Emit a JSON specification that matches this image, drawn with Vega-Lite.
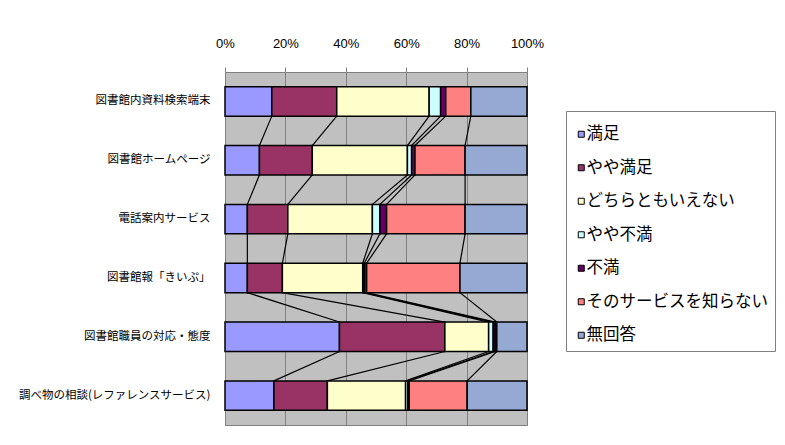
{
  "$schema": "https://vega.github.io/schema/vega-lite/v6.json",
  "width": 302,
  "height": 353,
  "autosize": {"type": "none"},
  "padding": {"left": 225, "top": 72, "right": 258, "bottom": 20},
  "background": "white",
  "config": {
    "view": {"fill": "#C0C0C0", "stroke": "#808080", "strokeWidth": 1}
  },
  "data": {
    "values": [
      {"item": "図書館内資料検索端末", "no": 1, "resp": "満足", "ro": 1, "pct": 15.5},
      {"item": "図書館内資料検索端末", "no": 1, "resp": "やや満足", "ro": 2, "pct": 21.5},
      {"item": "図書館内資料検索端末", "no": 1, "resp": "どちらともいえない", "ro": 3, "pct": 30.6},
      {"item": "図書館内資料検索端末", "no": 1, "resp": "やや不満", "ro": 4, "pct": 3.8},
      {"item": "図書館内資料検索端末", "no": 1, "resp": "不満", "ro": 5, "pct": 1.7},
      {"item": "図書館内資料検索端末", "no": 1, "resp": "そのサービスを知らない", "ro": 6, "pct": 8.3},
      {"item": "図書館内資料検索端末", "no": 1, "resp": "無回答", "ro": 7, "pct": 18.6},
      {"item": "図書館ホームページ", "no": 2, "resp": "満足", "ro": 1, "pct": 11.4},
      {"item": "図書館ホームページ", "no": 2, "resp": "やや満足", "ro": 2, "pct": 17.5},
      {"item": "図書館ホームページ", "no": 2, "resp": "どちらともいえない", "ro": 3, "pct": 31.5},
      {"item": "図書館ホームページ", "no": 2, "resp": "やや不満", "ro": 4, "pct": 1.4},
      {"item": "図書館ホームページ", "no": 2, "resp": "不満", "ro": 5, "pct": 1.1},
      {"item": "図書館ホームページ", "no": 2, "resp": "そのサービスを知らない", "ro": 6, "pct": 16.6},
      {"item": "図書館ホームページ", "no": 2, "resp": "無回答", "ro": 7, "pct": 20.5},
      {"item": "電話案内サービス", "no": 3, "resp": "満足", "ro": 1, "pct": 7.4},
      {"item": "電話案内サービス", "no": 3, "resp": "やや満足", "ro": 2, "pct": 13.4},
      {"item": "電話案内サービス", "no": 3, "resp": "どちらともいえない", "ro": 3, "pct": 28.0},
      {"item": "電話案内サービス", "no": 3, "resp": "やや不満", "ro": 4, "pct": 2.5},
      {"item": "電話案内サービス", "no": 3, "resp": "不満", "ro": 5, "pct": 2.2},
      {"item": "電話案内サービス", "no": 3, "resp": "そのサービスを知らない", "ro": 6, "pct": 26.0},
      {"item": "電話案内サービス", "no": 3, "resp": "無回答", "ro": 7, "pct": 20.5},
      {"item": "図書館報「きいぷ」", "no": 4, "resp": "満足", "ro": 1, "pct": 7.4},
      {"item": "図書館報「きいぷ」", "no": 4, "resp": "やや満足", "ro": 2, "pct": 11.6},
      {"item": "図書館報「きいぷ」", "no": 4, "resp": "どちらともいえない", "ro": 3, "pct": 26.6},
      {"item": "図書館報「きいぷ」", "no": 4, "resp": "やや不満", "ro": 4, "pct": 0.5},
      {"item": "図書館報「きいぷ」", "no": 4, "resp": "不満", "ro": 5, "pct": 0.8},
      {"item": "図書館報「きいぷ」", "no": 4, "resp": "そのサービスを知らない", "ro": 6, "pct": 30.9},
      {"item": "図書館報「きいぷ」", "no": 4, "resp": "無回答", "ro": 7, "pct": 22.2},
      {"item": "図書館職員の対応・態度", "no": 5, "resp": "満足", "ro": 1, "pct": 37.9},
      {"item": "図書館職員の対応・態度", "no": 5, "resp": "やや満足", "ro": 2, "pct": 34.9},
      {"item": "図書館職員の対応・態度", "no": 5, "resp": "どちらともいえない", "ro": 3, "pct": 14.5},
      {"item": "図書館職員の対応・態度", "no": 5, "resp": "やや不満", "ro": 4, "pct": 1.5},
      {"item": "図書館職員の対応・態度", "no": 5, "resp": "不満", "ro": 5, "pct": 0.7},
      {"item": "図書館職員の対応・態度", "no": 5, "resp": "そのサービスを知らない", "ro": 6, "pct": 0.5},
      {"item": "図書館職員の対応・態度", "no": 5, "resp": "無回答", "ro": 7, "pct": 10.0},
      {"item": "調べ物の相談(レファレンスサービス)", "no": 6, "resp": "満足", "ro": 1, "pct": 16.2},
      {"item": "調べ物の相談(レファレンスサービス)", "no": 6, "resp": "やや満足", "ro": 2, "pct": 17.7},
      {"item": "調べ物の相談(レファレンスサービス)", "no": 6, "resp": "どちらともいえない", "ro": 3, "pct": 25.9},
      {"item": "調べ物の相談(レファレンスサービス)", "no": 6, "resp": "やや不満", "ro": 4, "pct": 0.7},
      {"item": "調べ物の相談(レファレンスサービス)", "no": 6, "resp": "不満", "ro": 5, "pct": 0.5},
      {"item": "調べ物の相談(レファレンスサービス)", "no": 6, "resp": "そのサービスを知らない", "ro": 6, "pct": 19.2},
      {"item": "調べ物の相談(レファレンスサービス)", "no": 6, "resp": "無回答", "ro": 7, "pct": 19.8}
    ]
  },
  "layer": [
    {
      "transform": [
        {"stack": "pct", "groupby": ["item"], "sort": [{"field": "ro", "order": "ascending"}], "as": ["c0", "c1"]},
        {"filter": "datum.ro < 7"},
        {"window": [{"op": "lead", "field": "c1", "as": "nextC"}], "groupby": ["ro"], "sort": [{"field": "no", "order": "ascending"}]},
        {"filter": "isValid(datum.nextC)"},
        {"calculate": "datum.no - 0.25", "as": "yA"},
        {"calculate": "datum.no + 0.25", "as": "yB"}
      ],
      "mark": {"type": "rule", "color": "black", "strokeWidth": 1.2},
      "encoding": {
        "x": {
          "field": "c1", "type": "quantitative",
          "scale": {"domain": [0, 100], "nice": false},
          "axis": {"orient": "top", "title": null, "values": [0, 20, 40, 60, 80, 100], "labelExpr": "datum.value + '%'", "labelFlush": false, "labelOverlap": false, "grid": true, "gridColor": "#808080", "gridWidth": 1, "domain": false, "tickSize": 5, "tickColor": "#808080", "labelPadding": 17, "labelFont": "Liberation Sans", "labelFontSize": 13, "labelColor": "black"}
        },
        "x2": {"field": "nextC"},
        "y": {"field": "yA", "type": "quantitative", "scale": {"domain": [0, 6], "reverse": true, "nice": false, "zero": false}, "axis": null},
        "y2": {"field": "yB"}
      }
    },
    {
      "mark": {"type": "bar", "stroke": "black", "strokeWidth": 1.5},
      "encoding": {
        "y": {
          "field": "item", "type": "nominal", "sort": null,
          "scale": {"paddingInner": 0.5, "paddingOuter": 0.25},
          "axis": {"title": null, "ticks": false, "domain": false, "labelPadding": 15, "labelFont": "Noto Sans CJK JP", "labelFontSize": 11.5, "labelColor": "black", "labelLimit": 300}
        },
        "x": {
          "field": "pct", "type": "quantitative", "stack": "zero",
          "scale": {"domain": [0, 100], "nice": false},
          "axis": {"orient": "top", "title": null, "values": [0, 20, 40, 60, 80, 100], "labelExpr": "datum.value + '%'", "labelFlush": false, "labelOverlap": false, "grid": true, "gridColor": "#808080", "gridWidth": 1, "domain": false, "tickSize": 5, "tickColor": "#808080", "labelPadding": 17, "labelFont": "Liberation Sans", "labelFontSize": 13, "labelColor": "black"}
        },
        "order": {"field": "ro", "type": "quantitative"},
        "color": {
          "field": "resp", "type": "nominal",
          "sort": ["満足", "やや満足", "どちらともいえない", "やや不満", "不満", "そのサービスを知らない", "無回答"],
          "scale": {
            "domain": ["満足", "やや満足", "どちらともいえない", "やや不満", "不満", "そのサービスを知らない", "無回答"],
            "range": ["#9999FF", "#993366", "#FFFFCC", "#CCFFFF", "#660066", "#FF8080", "#95A9D3"]
          },
          "legend": {
            "orient": "none", "legendX": 341, "legendY": 39, "title": " ", "titleFontSize": 8, "titlePadding": 0,
            "fillColor": "white", "strokeColor": "#808080", "padding": 7,
            "symbolType": "square", "symbolSize": 36, "symbolStrokeColor": "black", "symbolStrokeWidth": 1, "symbolOpacity": 1,
            "labelFont": "Noto Sans CJK JP", "labelFontSize": 16.5, "labelColor": "black", "labelLimit": 300, "labelOffset": -3,
            "rowPadding": 16.5
          }
        }
      }
    }
  ],
  "resolve": {"scale": {"y": "independent"}}
}
